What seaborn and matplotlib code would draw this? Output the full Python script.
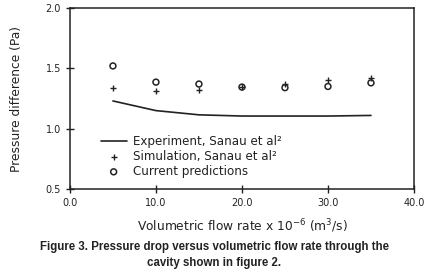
import numpy as np
import pandas as pd
import matplotlib
matplotlib.use('Agg')
import matplotlib.pyplot as plt
import seaborn as sns

# values
flow = [5, 10, 15, 20, 25, 30, 35]
experiment = [1.23, 1.15, 1.115, 1.105, 1.105, 1.105, 1.11]
simulation = [1.337, 1.31, 1.32, 1.345, 1.37, 1.40, 1.42]
current = [1.52, 1.386, 1.37, 1.345, 1.34, 1.35, 1.38]

x_ticks = [0, 10, 20, 30, 40]
y_ticks = [0.5, 1.0, 1.5, 2.0]

sns.set_style('ticks')
plt.rcParams['font.family'] = ['DejaVu Sans']

fig = plt.figure(figsize=(4.29, 2.76), dpi=100)
ax = fig.add_axes([0.163, 0.315, 0.802, 0.656])

ink = '#222222'
sns.lineplot(x=flow, y=experiment, ax=ax, color=ink, lw=1.2,
             label='Experiment, Sanau et al²')
sns.scatterplot(x=flow, y=simulation, ax=ax, marker='+', color=ink, s=24,
                linewidth=1.0, label='Simulation, Sanau et al²')
sns.scatterplot(x=flow, y=current, ax=ax, marker='o', facecolor='none',
                edgecolor=ink, s=18, linewidth=1.1, label='Current predictions')

ax.set_xlim(0, 40)
ax.set_ylim(0.5, 2.0)
ax.set_xticks(x_ticks)
ax.set_xticklabels([f'{v:.1f}' for v in x_ticks])
ax.set_yticks(y_ticks)
ax.set_yticklabels([f'{v:.1f}' for v in y_ticks])
ax.tick_params(direction='inout', length=6, width=1, labelsize=7, colors=ink)
for s in ax.spines.values():
    s.set_color(ink)
    s.set_linewidth(1.1)

ax.set_xlabel('Volumetric flow rate x 10$^{-6}$ (m$^3$/s)', fontsize=8.8,
              color=ink, labelpad=7)
ax.set_ylabel('Pressure difference (Pa)', fontsize=8.8, color=ink, labelpad=16)

leg = ax.legend(loc='lower left', bbox_to_anchor=(0.075, 0.035), frameon=False,
                fontsize=8.6, handlelength=2.2, labelspacing=0.15,
                handletextpad=0.5, borderaxespad=0)
for t in leg.get_texts():
    t.set_color(ink)

fig.text(0.5, 0.095, 'Figure 3. Pressure drop versus volumetric flow rate through the',
         ha='center', fontsize=8.3, fontweight='bold', family='Liberation Sans', color=ink)
fig.text(0.5, 0.035, 'cavity shown in figure 2.',
         ha='center', fontsize=8.3, fontweight='bold', family='Liberation Sans', color=ink)

fig.savefig('out.png', dpi=100)
